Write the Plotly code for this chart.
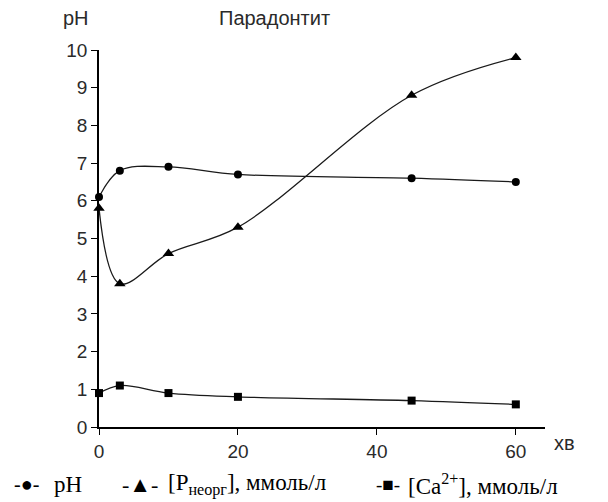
import plotly.graph_objects as go

time_min = [0, 3, 10, 20, 45, 60]
ph_vals = [6.1, 6.8, 6.9, 6.7, 6.6, 6.5]
p_vals = [5.8, 3.8, 4.6, 5.3, 8.8, 9.8]
ca_vals = [0.9, 1.1, 0.9, 0.8, 0.7, 0.6]
x_ticks = [0, 20, 40, 60]
y_ticks = list(range(0, 11))

line_col = "#1a1a1a"
fig = go.Figure()
for vals, sym, sz in [(ph_vals, "circle", 8), (p_vals, "triangle-up", 10), (ca_vals, "square", 8)]:
    fig.add_trace(go.Scatter(
        x=time_min, y=vals, mode="lines+markers",
        line=dict(color=line_col, width=1.3, shape="spline", smoothing=1.0),
        marker=dict(symbol=sym, size=sz, color="black"),
        cliponaxis=False, showlegend=False))

txt_col = "#2a2a2a"
tick_font = dict(family="Liberation Sans, Arial", size=19, color=txt_col)
fig.update_layout(
    width=608, height=502,
    margin=dict(l=99, r=63, t=50, b=75),
    plot_bgcolor="white", paper_bgcolor="white",
    xaxis=dict(range=[0, 64.2], tickvals=x_ticks, ticks="outside", ticklen=6,
               tickcolor="black", showline=True, linecolor="black", linewidth=1.5,
               showgrid=False, zeroline=False, tickfont=tick_font),
    yaxis=dict(range=[0, 10], tickvals=y_ticks, ticks="outside", ticklen=6,
               tickcolor="black", showline=True, linecolor="black", linewidth=1.5,
               showgrid=False, zeroline=False, tickfont=tick_font),
)

def px_x(px):
    return (px - 99) / 446.0

def px_y(py):
    return (427 - py) / 377.0

lab_font = dict(family="Liberation Sans, Arial", size=20, color=txt_col)
fig.add_annotation(text="pH", x=px_x(61), y=px_y(18), xref="paper", yref="paper",
                   xanchor="left", yanchor="middle", showarrow=False, font=lab_font)
fig.add_annotation(text="Парадонтит", x=px_x(217), y=px_y(18), xref="paper", yref="paper",
                   xanchor="left", yanchor="middle", showarrow=False, font=lab_font)
fig.add_annotation(text="хв", x=px_x(552), y=px_y(443), xref="paper", yref="paper",
                   xanchor="left", yanchor="middle", showarrow=False, font=lab_font)

legend_items = [
    (12, "-●-", 20),
    (52, "pH", 23),
    (120, "-▲-", 22),
    (166, "[P<sub>неорг</sub>], ммоль/л", 23),
    (374, "-■-", 19),
    (406, "[Ca<sup>2+</sup>], ммоль/л", 23),
]
for px, txt, fs in legend_items:
    fig.add_annotation(text=txt, x=px_x(px), y=px_y(484), xref="paper", yref="paper",
                       xanchor="left", yanchor="middle", showarrow=False,
                       font=dict(family="Liberation Serif, Times New Roman", size=fs, color="black"))

fig.write_html("out.html")
